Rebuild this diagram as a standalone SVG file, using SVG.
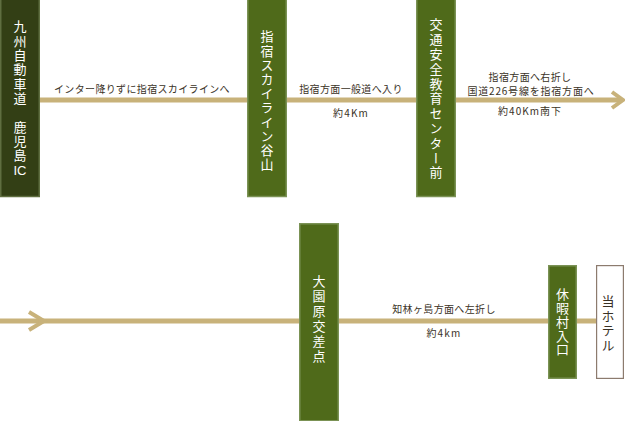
<svg xmlns="http://www.w3.org/2000/svg" width="625" height="421" viewBox="0 0 625 421">
<style>
.road{stroke:#c8b27a;stroke-width:5;fill:none}
.chev{stroke:#c8b27a;stroke-width:4;fill:none;stroke-linecap:butt}
.box{fill:#4f6a1a;stroke:#7b9255;stroke-width:1.5}
.box1{fill:#333f15;stroke:#5f6e40;stroke-width:1.5}
.hotel{fill:#ffffff;stroke:#8c7b6e;stroke-width:1.2}
.vt{font-family:"Noto Sans CJK JP","Noto Sans",sans-serif;font-size:13px;fill:#ffffff;writing-mode:vertical-rl}
.ht{font-family:"Liberation Sans","Noto Sans CJK JP",sans-serif;font-size:13px;fill:#ffffff}
.lbl{font-family:"Noto Sans CJK JP","Noto Sans",sans-serif;font-size:10px;fill:#3a3226;text-anchor:middle;letter-spacing:0.35px}
</style>
<g id="connectors">
<line class="road" x1="40" y1="100" x2="247" y2="100"/>
<line class="road" x1="287" y1="100" x2="416" y2="100"/>
<line class="road" x1="456" y1="100" x2="621" y2="100"/>
<polyline class="chev" points="612,92 623,100 612,108"/>
<line class="road" x1="0" y1="321" x2="299" y2="321"/>
<polyline class="chev" points="29,312 44,321 29,330"/>
<line class="road" x1="339" y1="321" x2="548" y2="321"/>
<line class="road" x1="577" y1="321" x2="596" y2="321"/>
<text class="lbl" x="142" y="93">インター降りずに指宿スカイラインへ</text>
<text class="lbl" x="351" y="93">指宿方面一般道へ入り</text>
<text class="lbl" x="351" y="117" style="letter-spacing:1.2px">約4Km</text>
<text class="lbl" x="530" y="81">指宿方面へ右折し</text>
<text class="lbl" x="531" y="95" style="letter-spacing:0.8px">国道226号線を指宿方面へ</text>
<text class="lbl" x="530" y="115" style="letter-spacing:1px">約40Km南下</text>
<text class="lbl" x="444" y="313">知林ヶ島方面へ左折し</text>
<text class="lbl" x="444" y="337" style="letter-spacing:1.2px">約4km</text>
</g>
<g id="node-kyushu">
<rect class="box1" x="0.75" y="-1" width="38.5" height="197.5"/>
<text class="vt" x="20" y="20" style="letter-spacing:1.3px">九州自動車道　鹿児島</text>
<text class="ht" x="20" y="175" text-anchor="middle">IC</text>
</g>
<g id="node-ibusuki-skyline">
<rect class="box" x="247.75" y="-1" width="38.5" height="197.5"/>
<text class="vt" x="267" y="30" style="letter-spacing:1.2px">指宿スカイライン谷山</text>
</g>
<g id="node-kotsu-center">
<rect class="box" x="416.75" y="-1" width="38.5" height="197.5"/>
<text class="vt" x="436" y="18" style="letter-spacing:1.8px">交通安全教育センター前</text>
</g>
<g id="node-ozonobaru">
<rect class="box" x="299.75" y="223.75" width="38.5" height="197"/>
<text class="vt" x="319" y="275" style="letter-spacing:2px">大園原交差点</text>
</g>
<g id="node-kyuka">
<rect class="box" x="548.75" y="265.75" width="27.5" height="112.5"/>
<text class="vt" x="562.5" y="288" style="letter-spacing:0.7px">休暇村入口</text>
</g>
<g id="node-hotel">
<rect class="hotel" x="596.6" y="265.6" width="26.8" height="112.8"/>
<text class="vt" x="608" y="295" style="fill:#3a3226;letter-spacing:1.5px">当ホテル</text>
</g>
</svg>
